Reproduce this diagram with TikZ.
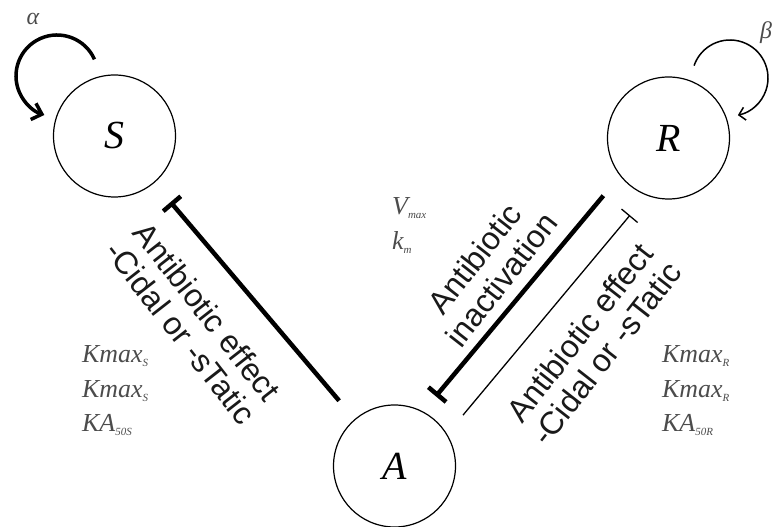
\documentclass[tikz,border=0pt]{standalone}
\usepackage{fontspec}
\setmainfont{Liberation Serif}
\setsansfont{Liberation Sans}
\usetikzlibrary{arrows.meta}

\newcommand{\lowsub}[1]{\raisebox{-4bp}{\fontsize{11}{11}\selectfont #1}}

\begin{document}
\begin{tikzpicture}[x=1bp,y=1bp,
    pop/.style={draw, circle, line width=1.2bp, minimum size=122bp, inner sep=0pt,
      font=\fontsize{40}{40}\selectfont\itshape},
    inhib/.style={line width=4.5bp},
    effect/.style={font=\sffamily\fontsize{32}{34}\selectfont, align=center, text=black!90},
    param/.style={font=\fontsize{26}{35}\selectfont\itshape, align=left, text=black!70,
      anchor=north west, inner sep=0pt},
    rate/.style={font=\fontsize{24}{24}\selectfont\itshape, text=black!70}]
    \useasboundingbox (0,0) rectangle (776,527);
    % populations
    \node[pop] (S) at (114.5,391) {S};
    \node[pop] (R) at (668.5,389) {R};
    \node[pop] (A) at (394.5,61) {A};
    % growth loops
    \coordinate (Sloop) at (57,451);
    \coordinate (Rloop) at (730,449);
    \draw[line width=3.5bp, -{Straight Barb[length=9bp,width=17bp]}]
        ([shift={(24:41)}]Sloop) arc[start angle=24, end angle=252, radius=41];
    \draw[line width=1.5bp, -{Straight Barb[length=6bp,width=13bp]}]
        ([shift={(161:38)}]Rloop) arc[start angle=161, end angle=-78, radius=38];
    \node[rate] (alpha) at (33,508) {α};
    \node[rate] (beta) at (766,494) {β};
    % interactions
    \draw[inhib, {Bar[width=23bp]}-, shorten <=25bp, shorten >=24bp] (S) -- (A);
    \draw[inhib, -{Bar[width=23bp]}, shorten <=86bp, shorten >=80bp]
        ([shift={(-10,8.3)}]R.center) -- ([shift={(-10,8.3)}]A.center);
    \draw[line width=1.3bp, {Bar[width=21bp]}-, shorten <=84bp, shorten >=83bp]
        ([shift={(15.3,-12.8)}]R.center) -- ([shift={(15.3,-12.8)}]A.center);
    % labels
    \node[effect, rotate=-52] (effS) at (194,205) {Antibiotic effect\\-Cidal or -sTatic};
    \node[effect, rotate=52] (inact) at (488,258) {Antibiotic\\inactivation};
    \node[effect, rotate=52] (effR) at (593,184) {Antibiotic effect\\-Cidal or -sTatic};
    \node[param] (parS) at (82,182) {Kmax\lowsub{S}\\Kmax\lowsub{S}\\KA\lowsub{50S}};
    \node[param] (parR) at (662,182) {Kmax\lowsub{R}\\Kmax\lowsub{R}\\KA\lowsub{50R}};
    \node[param] (parA) at (392,330) {V\lowsub{max}\\k\lowsub{m}};
\end{tikzpicture}
\end{document}
